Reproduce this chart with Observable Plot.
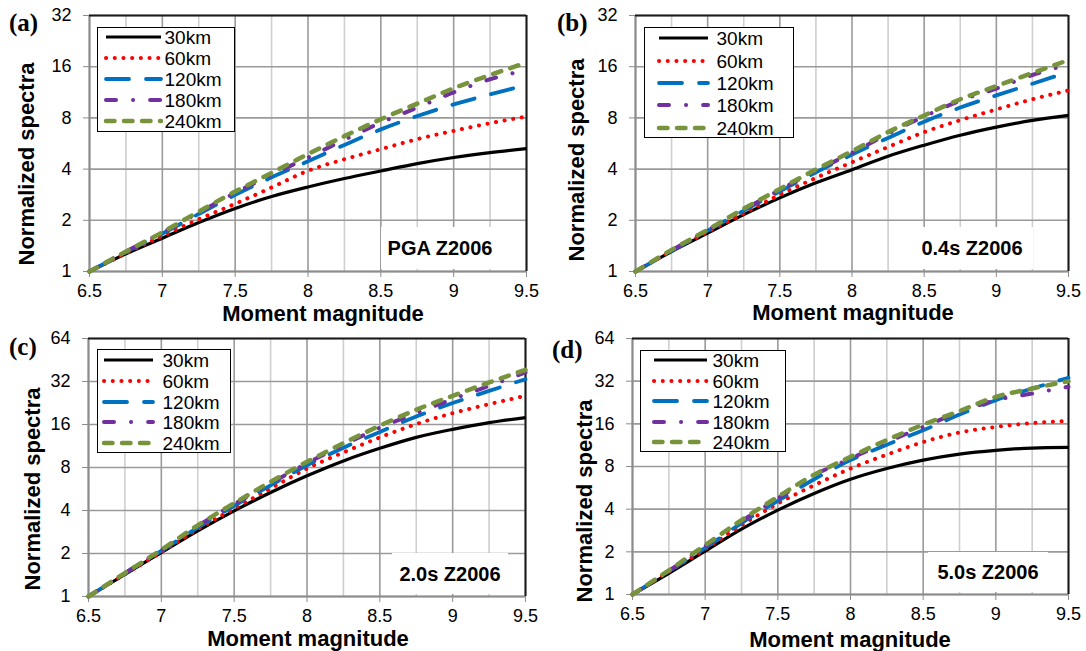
<!DOCTYPE html>
<html>
<head>
<meta charset="utf-8">
<script src="https://cdn.jsdelivr.net/npm/d3@7"></script>
<script src="https://cdn.jsdelivr.net/npm/@observablehq/plot@0.6"></script>
<style>
  html, body { margin: 0; padding: 0; background: #fff; }
  #root { position: relative; width: 1086px; height: 651px; overflow: hidden; font-family: "Liberation Sans", Arial, sans-serif; }
  .panel { position: absolute; }
  .lab { position: absolute; white-space: nowrap; line-height: 1; }
  .plabel { font-family: "Liberation Serif", "Times New Roman", serif; font-weight: bold; font-size: 25px; }
  .ytitle { font-weight: bold; font-size: 22px; transform: translate(-50%, -50%) rotate(-90deg); }
  .xtitle { font-weight: bold; font-size: 22px; line-height: 0.85; transform: translate(-50%, -50%); }
  .note { background: #fff; font-weight: bold; font-size: 20px; display: flex; align-items: center; justify-content: center; }
  .legend { position: absolute; background: #fff; border: 1.5px solid #000; box-sizing: border-box; }
  .legtext { position: absolute; font-size: 19px; line-height: 1; transform: translateY(-50%); white-space: nowrap; }
</style>
</head>
<body>
<div id="root"></div>
<script>
// ---------------- data ----------------
const magnitudes = [6.5, 6.75, 7, 7.25, 7.5, 7.75, 8, 8.25, 8.5, 8.75, 9, 9.25, 9.5];
const seriesNames = ["30km", "60km", "120km", "180km", "240km"];
const majorXTicks = [6.5, 7, 7.5, 8, 8.5, 9, 9.5];
const minorXTicks = [6.75, 7.25, 7.75, 8.25, 8.75, 9.25];
const yTicks32 = [1, 2, 4, 8, 16, 32];
const yTicks64 = [1, 2, 4, 8, 16, 32, 64];
const panelTags = ["(a)", "(b)", "(c)", "(d)"];
const panelNotes = ["PGA Z2006", "0.4s Z2006", "2.0s Z2006", "5.0s Z2006"];
const xTitle = "Moment magnitude";
const yTitle = "Normalized spectra";

// (a) PGA
const pga_30km  = [1, 1.27, 1.57, 1.94, 2.35, 2.76, 3.14, 3.52, 3.90, 4.31, 4.68, 5.00, 5.28];
const pga_60km  = [1, 1.28, 1.62, 2.03, 2.50, 3.12, 3.91, 4.57, 5.24, 6.00, 6.71, 7.45, 8.15];
const pga_120km = [1, 1.30, 1.67, 2.18, 2.82, 3.58, 4.45, 5.55, 6.85, 8.20, 9.60, 11.0, 12.5];
const pga_180km = [1, 1.31, 1.69, 2.22, 2.90, 3.70, 4.68, 5.95, 7.50, 9.20, 11.3, 13.5, 15.3];
const pga_240km = [1, 1.31, 1.70, 2.25, 2.95, 3.80, 4.90, 6.25, 7.86, 9.70, 11.96, 14.3, 16.9];
// (b) 0.4 s
const s04_30km  = [1, 1.31, 1.68, 2.16, 2.71, 3.32, 3.97, 4.76, 5.53, 6.33, 7.06, 7.73, 8.27];
const s04_60km  = [1, 1.32, 1.71, 2.20, 2.83, 3.55, 4.39, 5.40, 6.60, 7.76, 8.97, 10.3, 11.6];
const s04_120km = [1, 1.32, 1.74, 2.28, 2.96, 3.83, 4.87, 6.10, 7.60, 9.20, 10.85, 12.7, 14.9];
const s04_180km = [1, 1.33, 1.75, 2.31, 3.02, 3.92, 4.98, 6.45, 8.15, 10.1, 11.9, 14.3, 16.5];
const s04_240km = [1, 1.34, 1.76, 2.34, 3.06, 3.98, 5.10, 6.60, 8.27, 10.3, 12.3, 14.7, 17.5];
// (c) 2.0 s
const s20_30km  = [1, 1.43, 2.03, 2.88, 3.98, 5.35, 7.00, 8.90, 10.9, 13.0, 14.8, 16.5, 17.9];
const s20_60km  = [1, 1.43, 2.05, 2.96, 4.13, 5.70, 7.87, 10.2, 13.0, 16.1, 19.2, 22.2, 25.4];
const s20_120km = [1, 1.45, 2.09, 3.04, 4.31, 6.00, 8.30, 11.0, 14.2, 18.2, 22.6, 27.5, 33.2];
const s20_180km = [1, 1.46, 2.11, 3.12, 4.43, 6.20, 8.57, 11.5, 15.2, 19.2, 24.1, 29.8, 37.0];
const s20_240km = [1, 1.46, 2.12, 3.15, 4.50, 6.35, 8.77, 11.85, 15.7, 20.3, 25.4, 31.5, 38.6];
// (d) 5.0 s
const s50_30km  = [1, 1.41, 2.02, 2.89, 3.94, 5.16, 6.50, 7.74, 8.87, 9.78, 10.4, 10.8, 10.9];
const s50_60km  = [1, 1.45, 2.09, 3.08, 4.38, 5.90, 7.74, 9.70, 11.9, 13.9, 15.2, 16.2, 16.8];
const s50_120km = [1, 1.46, 2.13, 3.19, 4.58, 6.50, 8.87, 11.4, 14.4, 18.6, 23.5, 28.4, 33.8];
const s50_180km = [1, 1.47, 2.19, 3.29, 4.76, 6.96, 9.10, 11.9, 15.2, 19.4, 23.5, 26.2, 29.2];
const s50_240km = [1, 1.48, 2.23, 3.35, 4.89, 7.00, 9.37, 12.3, 15.8, 19.7, 24.8, 28.4, 32.0];

// ---------------- styles ----------------
const seriesColors = ["#000000", "#ff0000", "#0070c0", "#7030a0", "#77933c"];
const seriesDash = [null, "0.1 8.6", "23 17", "10 17 0.1 17", "8.5 9.5"];
const seriesWidth = [3.2, 4, 3.8, 4, 4.5];

const panels = [
  { series: [pga_30km, pga_60km, pga_120km, pga_180km, pga_240km], yTicks: yTicks32,
    box: {left: 0, top: 0, width: 543, height: 325}, margin: {l: 89, r: 17, t: 15, b: 54},
    tag: {x: 9, y: 22}, ytitle: {x: 27, y: 164}, xtitle: {x: 323, y: 314},
    note: {x: 381, y: 227, w: 118, h: 42},
    legend: {x0: 97, y0: 27, x1: 235, y1: 132, sx0: 106, sx1: 161, tx: 165, rows: [37, 58, 79, 100, 121]} },
  { series: [s04_30km, s04_60km, s04_120km, s04_180km, s04_240km], yTicks: yTicks32,
    box: {left: 543, top: 0, width: 543, height: 325}, margin: {l: 92, r: 18, t: 15, b: 54},
    tag: {x: 557, y: 22}, ytitle: {x: 577, y: 160}, xtitle: {x: 853, y: 313},
    note: {x: 911, y: 227, w: 122, h: 42},
    legend: {x0: 644, y0: 27, x1: 794, y1: 138, sx0: 659, sx1: 708, tx: 717, rows: [38, 61, 83, 105, 128]} },
  { series: [s20_30km, s20_60km, s20_120km, s20_180km, s20_240km], yTicks: yTicks64,
    box: {left: 0, top: 325, width: 543, height: 326}, margin: {l: 88, r: 18, t: 13, b: 55},
    tag: {x: 9, y: 346}, ytitle: {x: 33, y: 489}, xtitle: {x: 308, y: 639},
    note: {x: 392, y: 553, w: 116, h: 41},
    legend: {x0: 97, y0: 349, x1: 231, y1: 453, sx0: 104, sx1: 153, tx: 163, rows: [360, 381, 402, 422, 443]} },
  { series: [s50_30km, s50_60km, s50_120km, s50_180km, s50_240km], yTicks: yTicks64,
    box: {left: 543, top: 325, width: 543, height: 326}, margin: {l: 89, r: 18, t: 13, b: 57},
    tag: {x: 552, y: 349}, ytitle: {x: 585, y: 501}, xtitle: {x: 850, y: 640},
    note: {x: 928, y: 552, w: 120, h: 40},
    legend: {x0: 640, y0: 350, x1: 786, y1: 452, sx0: 654, sx1: 707, tx: 713, rows: [360, 381, 401, 422, 442]} }
];

const root = document.getElementById("root");

panels.forEach((p, pi) => {
  const rows = [];
  p.series.forEach((vals, si) => vals.forEach((v, i) => rows.push({m: magnitudes[i], v, s: si})));
  const yMax = p.yTicks[p.yTicks.length - 1];
  const marks = [
    Plot.gridX(minorXTicks, {stroke: "#cfcfcf", strokeOpacity: 1, strokeWidth: 1.6}),
    Plot.gridX(majorXTicks, {stroke: "#9a9a9a", strokeOpacity: 1, strokeWidth: 1.6}),
    Plot.gridY(p.yTicks, {stroke: "#9a9a9a", strokeOpacity: 1, strokeWidth: 1.6}),
    Plot.ruleY([p.yTicks[0]], {stroke: "#8c8c8c", strokeWidth: 2}),
    Plot.ruleX([majorXTicks[0]], {stroke: "#8c8c8c", strokeWidth: 2}),
    Plot.ruleY([yMax], {stroke: "#1a1a1a", strokeWidth: 2}),
    Plot.ruleX([majorXTicks[majorXTicks.length - 1]], {stroke: "#1a1a1a", strokeWidth: 2}),
    Plot.axisX({ticks: majorXTicks, tickSize: 6, tickPadding: 7, stroke: "#8c8c8c", fill: "#000", fontSize: 18, label: null, tickFormat: d => String(d)}),
    Plot.axisY({ticks: p.yTicks, tickSize: 6, tickPadding: 12, stroke: "#8c8c8c", fill: "#000", fontSize: 18, label: null, tickFormat: d => String(d)})
  ];
  seriesNames.forEach((name, si) => {
    marks.push(Plot.line(rows.filter(r => r.s === si), {
      x: "m", y: "v", curve: "monotone-x",
      stroke: seriesColors[si], strokeWidth: seriesWidth[si],
      strokeDasharray: seriesDash[si] || undefined,
      strokeLinecap: si === 0 ? "butt" : "round", strokeLinejoin: "round"
    }));
  });
  const chart = Plot.plot({
    width: p.box.width, height: p.box.height,
    marginLeft: p.margin.l, marginRight: p.margin.r, marginTop: p.margin.t, marginBottom: p.margin.b,
    x: {domain: [majorXTicks[0], majorXTicks[majorXTicks.length - 1]]},
    y: {type: "log", base: 2, domain: [p.yTicks[0], yMax]},
    style: {background: "transparent", fontFamily: "'Liberation Sans', Arial, sans-serif", fontSize: "18px", color: "#000", overflow: "visible"},
    marks
  });
  chart.classList.add("panel");
  chart.style.left = p.box.left + "px";
  chart.style.top = p.box.top + "px";
  root.appendChild(chart);

  // annotation with white background
  const note = document.createElement("div");
  note.className = "lab note";
  Object.assign(note.style, {left: p.note.x + "px", top: p.note.y + "px", width: p.note.w + "px", height: p.note.h + "px"});
  note.textContent = panelNotes[pi];
  root.appendChild(note);

  // panel tag
  const tag = document.createElement("div");
  tag.className = "lab plabel";
  Object.assign(tag.style, {left: p.tag.x + "px", top: (p.tag.y - 12) + "px"});
  tag.textContent = panelTags[pi];
  root.appendChild(tag);

  // axis titles
  const yt = document.createElement("div");
  yt.className = "lab ytitle";
  Object.assign(yt.style, {left: p.ytitle.x + "px", top: p.ytitle.y + "px"});
  yt.textContent = yTitle;
  root.appendChild(yt);
  const xt = document.createElement("div");
  xt.className = "lab xtitle";
  Object.assign(xt.style, {left: p.xtitle.x + "px", top: p.xtitle.y + "px"});
  xt.textContent = xTitle;
  root.appendChild(xt);

  // legend
  const L = p.legend;
  const leg = document.createElement("div");
  leg.className = "legend";
  Object.assign(leg.style, {left: L.x0 + "px", top: L.y0 + "px", width: (L.x1 - L.x0) + "px", height: (L.y1 - L.y0) + "px"});
  root.appendChild(leg);
  const ns = "http://www.w3.org/2000/svg";
  const lsvg = document.createElementNS(ns, "svg");
  lsvg.setAttribute("width", L.x1 - L.x0);
  lsvg.setAttribute("height", L.y1 - L.y0);
  lsvg.style.position = "absolute";
  lsvg.style.left = (-1.5) + "px";
  lsvg.style.top = (-1.5) + "px";
  lsvg.style.overflow = "visible";
  leg.appendChild(lsvg);
  seriesNames.forEach((name, si) => {
    const yy = L.rows[si] - L.y0;
    const ln = document.createElementNS(ns, "line");
    ln.setAttribute("x1", L.sx0 - L.x0);
    ln.setAttribute("x2", L.sx1 - L.x0);
    ln.setAttribute("y1", yy);
    ln.setAttribute("y2", yy);
    ln.setAttribute("stroke", seriesColors[si]);
    ln.setAttribute("stroke-width", seriesWidth[si]);
    if (seriesDash[si]) ln.setAttribute("stroke-dasharray", seriesDash[si]);
    ln.setAttribute("stroke-linecap", si === 0 ? "butt" : "round");
    lsvg.appendChild(ln);
    const t = document.createElement("div");
    t.className = "legtext";
    Object.assign(t.style, {left: (L.tx - L.x0 - 1.5) + "px", top: (yy - 1.5) + "px"});
    t.textContent = name;
    leg.appendChild(t);
  });
});
</script>
</body>
</html>
